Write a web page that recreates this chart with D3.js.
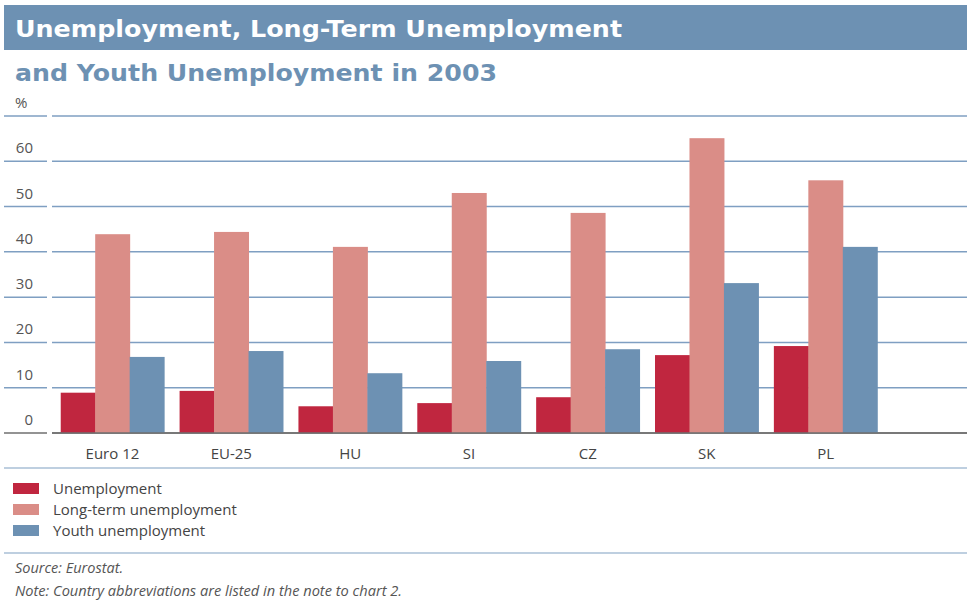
<!DOCTYPE html>
<html>
<head>
<meta charset="utf-8">
<script src="https://cdn.jsdelivr.net/npm/d3@7"></script>
<style>
  body { margin: 0; background: #fff; }
  svg text { font-family: "Open Sans", "DejaVu Sans", sans-serif; }
</style>
</head>
<body>
<div id="chart"></div>
<script>
const countries = ["Euro 12", "EU-25", "HU", "SI", "CZ", "SK", "PL"];
const unemployment = [8.9, 9.3, 5.9, 6.6, 7.9, 17.2, 19.2];
const longTerm = [43.9, 44.4, 41.1, 53.0, 48.6, 65.1, 55.8];
const youth = [16.8, 18.1, 13.2, 15.9, 18.5, 33.1, 41.1];
const seriesNames = ["Unemployment", "Long-term unemployment", "Youth unemployment"];
const yTicks = [0, 10, 20, 30, 40, 50, 60];

const colors = ["#c0263f", "#da8d87", "#6d91b3"];
const width = 967, height = 601;

const svg = d3.select("#chart").append("svg")
    .attr("width", width).attr("height", height);

// title
svg.append("rect").attr("x", 4).attr("y", 5).attr("width", 963).attr("height", 45).attr("fill", "#6d91b3");
svg.append("text").attr("x", 15).attr("y", 37)
    .attr("fill", "#fff").attr("font-size", 23).attr("font-weight", "bold")
    .attr("textLength", 607).attr("lengthAdjust", "spacingAndGlyphs")
    .style("font-family", "'DejaVu Sans', sans-serif")
    .text("Unemployment, Long-Term Unemployment");
svg.append("text").attr("x", 15).attr("y", 81)
    .attr("fill", "#6d91b3").attr("font-size", 23).attr("font-weight", "bold")
    .attr("textLength", 482).attr("lengthAdjust", "spacingAndGlyphs")
    .style("font-family", "'DejaVu Sans', sans-serif")
    .text("and Youth Unemployment in 2003");

const y = d3.scaleLinear().domain([0, 70]).range([433, 116]);
const x = d3.scaleBand().domain(countries).range([53, 885]).paddingInner(0.13).paddingOuter(0.065);
const xs = d3.scaleBand().domain(d3.range(3)).range([0, x.bandwidth()]);

// gridlines (left stub + main)
const gridVals = yTicks.concat([70]);
const grid = svg.append("g");
gridVals.forEach(v => {
    const stroke = v === 0 ? "#6f6f6f" : "#7f9fc2";
    grid.append("line").attr("x1", 4).attr("x2", 47).attr("y1", y(v)).attr("y2", y(v))
        .attr("stroke", stroke).attr("stroke-width", 1.5);
    grid.append("line").attr("x1", 52).attr("x2", 967).attr("y1", y(v)).attr("y2", y(v))
        .attr("stroke", stroke).attr("stroke-width", 1.5);
});

// y labels
svg.append("g").selectAll("text").data(yTicks).enter().append("text")
    .attr("x", 33).attr("y", d => y(d) - 8)
    .attr("text-anchor", "end").attr("font-size", 15).attr("fill", "#555")
    .text(d => d);
svg.append("text").attr("x", 15).attr("y", y(70) - 8)
    .attr("font-size", 15).attr("fill", "#555").text("%");

// bars
const data = countries.map((c, i) => ({ c, vals: [unemployment[i], longTerm[i], youth[i]] }));
const groups = svg.append("g").selectAll("g").data(data).enter().append("g")
    .attr("transform", d => `translate(${x(d.c)},0)`);
groups.selectAll("rect").data(d => d.vals).enter().append("rect")
    .attr("x", (d, i) => xs(i)).attr("width", xs.bandwidth() + 0.5)
    .attr("y", d => y(d)).attr("height", d => y(0) - y(d))
    .attr("fill", (d, i) => colors[i]);

// redraw zero line over bars
svg.append("line").attr("x1", 52).attr("x2", 967).attr("y1", y(0)).attr("y2", y(0))
    .attr("stroke", "#6f6f6f").attr("stroke-width", 1.5);

// category labels
svg.append("g").selectAll("text").data(countries).enter().append("text")
    .attr("x", d => x(d) + x.bandwidth() / 2).attr("y", 459)
    .attr("text-anchor", "middle").attr("font-size", 15).attr("fill", "#444")
    .text(d => d);

svg.append("line").attr("x1", 4).attr("x2", 967).attr("y1", 468).attr("y2", 468)
    .attr("stroke", "#a9bfd6").attr("stroke-width", 1.5);

// legend
const legend = svg.append("g").selectAll("g").data(seriesNames).enter().append("g")
    .attr("transform", (d, i) => `translate(13,${483 + i * 21})`);
legend.append("rect").attr("width", 26).attr("height", 11).attr("fill", (d, i) => colors[i]);
legend.append("text").attr("x", 40).attr("y", 11).attr("font-size", 15).attr("fill", "#444").text(d => d);

svg.append("line").attr("x1", 4).attr("x2", 967).attr("y1", 553).attr("y2", 553)
    .attr("stroke", "#a9bfd6").attr("stroke-width", 1.5);

svg.append("text").attr("x", 15).attr("y", 573).attr("font-size", 14.5).attr("font-style", "italic")
    .attr("fill", "#555").text("Source: Eurostat.");
svg.append("text").attr("x", 15).attr("y", 596).attr("font-size", 14.5).attr("font-style", "italic")
    .attr("fill", "#555").attr("textLength", 387).attr("lengthAdjust", "spacingAndGlyphs")
    .text("Note: Country abbreviations are listed in the note to chart 2.");
</script>
</body>
</html>
